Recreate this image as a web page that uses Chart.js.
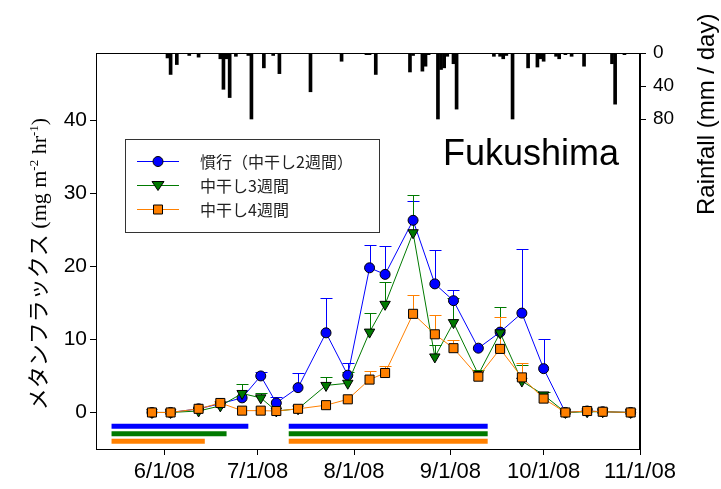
<!DOCTYPE html>
<html>
<head>
<meta charset="utf-8">
<script src="https://cdn.jsdelivr.net/npm/chart.js@4"></script>
<style>
  body { margin: 0; background: #fff; }
  canvas { display: block; }
</style>
</head>
<body>
<canvas id="fluxChart" width="721" height="489"></canvas>
<script>
// sampling dates as day-of-year 2008
const sampleDays = [149, 155, 164, 171, 178, 184, 189, 196, 205, 212, 219, 224, 233, 240, 246, 254, 261, 268, 275, 282, 289, 294, 303];

const fluxConv    = [0, 0, 0.5, 1.2, 2.0, 5.0, 1.3, 3.4, 10.9, 5.1, 19.8, 18.9, 26.3, 17.6, 15.3, 8.8, 11.0, 13.6, 6.0, 0, 0.2, 0.1, 0];
const fluxConvErr = [0, 0, 0, 0, 0, 0.6, 0.8, 2.0, 4.8, 1.7, 3.1, 3.9, 2.7, 4.7, 1.5, 0, 0, 8.8, 4.1, 0, 0, 0, 0];
const flux3w      = [0, 0, 0.2, 0.9, 2.6, 2.0, 0.2, 0.5, 3.7, 4.0, 11.0, 14.8, 24.6, 7.6, 12.3, 5.2, 10.9, 4.3, 2.4, 0, 0.1, 0.1, 0];
const flux3wErr   = [0, 0, 0, 0, 1.3, 0.6, 0, 0, 1.2, 1.5, 2.6, 3.1, 5.2, 1.7, 3.4, 0.6, 3.6, 2.2, 0.4, 0, 0, 0, 0];
const flux4w      = [0, 0, 0.5, 1.3, 0.25, 0.25, 0.2, 0.5, 1.0, 1.8, 4.5, 5.4, 13.5, 10.7, 8.8, 4.9, 8.7, 4.8, 1.9, 0, 0.2, 0.1, 0];
const flux4wErr   = [0, 0, 0, 0.3, 0, 0, 0, 0, 0, 0, 1.2, 0.9, 2.6, 2.7, 1.1, 0, 4.4, 2.0, 0, 0, 0, 0, 0];

// daily rainfall (mm/day)
const rainDays = [154, 155, 157, 161, 164, 171, 172, 173, 174, 176, 180, 181, 185, 188, 190, 200, 210, 218, 219, 221, 232, 233, 236, 237, 238, 241, 242, 243, 244, 246, 247, 259, 261, 262, 263, 265, 270, 273, 274, 275, 279, 280, 282, 284, 288, 297, 298, 301];
const rainMm   = [6, 26, 14, 3, 5, 7, 44, 7, 54, 4, 3, 80, 18, 3, 25, 47, 10, 2, 2, 26, 23, 3, 22, 16, 2, 80, 20, 18, 4, 13, 68, 4, 4, 7, 3, 80, 18, 17, 7, 10, 4, 7, 2, 4, 16, 13, 62, 2];

// flooded periods (start, end day)
const drainConv = [[136, 180], [193, 257]];
const drain3w   = [[136, 173], [193, 257]];
const drain4w   = [[136, 166], [193, 257]];

const seriesNames = ['慣行（中干し2週間）', '中干し3週間', '中干し4週間'];
const dateTicks  = [153, 183, 214, 245, 275, 306];
const dateLabels = ['6/1/08', '7/1/08', '8/1/08', '9/1/08', '10/1/08', '11/1/08'];
const fluxTicks  = [0, 10, 20, 30, 40];
const rainTicks  = [0, 40, 80];

const BLUE = '#0000ff', GREEN = '#007a00', ORANGE = '#ff8000';
const pts = vals => sampleDays.map((d, i) => ({ x: d, y: vals[i] }));

function drainSets(periods, y, color) {
  return periods.map(p => ({
    type: 'line',
    data: [{ x: p[0], y: y }, { x: p[1], y: y }],
    borderColor: color,
    borderWidth: 5,
    borderCapStyle: 'butt',
    pointRadius: 0,
    yAxisID: 'y',
    order: 5
  }));
}

const errorBars = {
  id: 'errorBars',
  beforeDatasetsDraw(chart) {
    const ctx = chart.ctx, ys = chart.scales.y;
    chart.data.datasets.forEach((ds, i) => {
      if (!ds.errors) return;
      const meta = chart.getDatasetMeta(i);
      ctx.save();
      ctx.strokeStyle = ds.borderColor;
      ctx.lineWidth = 1;
      meta.data.forEach((p, j) => {
        const e = ds.errors[j];
        if (!e) return;
        const top = Math.round(ys.getPixelForValue(ds.data[j].y + e)) + 0.5;
        const x = Math.round(p.x) + 0.5;
        ctx.beginPath();
        ctx.moveTo(x, p.y);
        ctx.lineTo(x, top);
        ctx.moveTo(x - 6, top);
        ctx.lineTo(x + 6, top);
        ctx.stroke();
      });
      ctx.restore();
    });
  }
};

const decorations = {
  id: 'decorations',
  afterDraw(chart) {
    const ctx = chart.ctx, a = chart.chartArea;
    ctx.save();
    // frame
    ctx.strokeStyle = '#000';
    ctx.lineWidth = 1;
    ctx.strokeRect(Math.round(a.left) + 0.5, Math.round(a.top) + 0.5, Math.round(a.right - a.left) - 1, Math.round(a.bottom - a.top));

    // legend box
    ctx.strokeStyle = '#333';
    ctx.strokeRect(125.5, 139.5, 254, 93);
    const rows = [161, 185, 209];
    const colors = [BLUE, GREEN, ORANGE];
    rows.forEach((ry, i) => {
      ctx.strokeStyle = colors[i];
      ctx.lineWidth = 1;
      ctx.beginPath();
      ctx.moveTo(137, ry + 0.5);
      ctx.lineTo(179, ry + 0.5);
      ctx.stroke();
      ctx.fillStyle = colors[i];
      ctx.strokeStyle = '#000';
      ctx.beginPath();
      if (i === 0) {
        ctx.arc(158, ry + 0.5, 5, 0, Math.PI * 2);
      } else if (i === 1) {
        ctx.moveTo(152, ry - 3.5);
        ctx.lineTo(164, ry - 3.5);
        ctx.lineTo(158, ry + 5.5);
        ctx.closePath();
      } else {
        ctx.rect(153.5, ry - 4, 9, 9);
      }
      ctx.fill();
      ctx.stroke();
      ctx.fillStyle = '#222';
      ctx.font = '16px "Noto Sans CJK JP"';
      ctx.textBaseline = 'middle';
      ctx.fillText(seriesNames[i], 200, ry + 1);
    });

    // site name
    ctx.fillStyle = '#000';
    ctx.font = '36px "Liberation Sans"';
    ctx.textBaseline = 'alphabetic';
    ctx.fillText('Fukushima', 443, 165);

    // right title
    ctx.save();
    ctx.translate(714, 215);
    ctx.rotate(-Math.PI / 2);
    ctx.font = '24px "Liberation Sans"';
    ctx.textAlign = 'left';
    ctx.textBaseline = 'alphabetic';
    ctx.fillText('Rainfall (mm / day)', 0, 0);
    ctx.restore();

    // left title with mixed fonts
    const parts = [
      { t: 'メタンフラックス', f: '22px "Noto Sans CJK JP"', dy: 0 },
      { t: ' (mg m', f: '22px "Liberation Serif"', dy: 0 },
      { t: '-2', f: '13px "Liberation Serif"', dy: -8 },
      { t: ' hr', f: '22px "Liberation Serif"', dy: 0 },
      { t: '-1', f: '13px "Liberation Serif"', dy: -8 },
      { t: ')', f: '22px "Liberation Serif"', dy: 0 }
    ];
    let total = 0;
    parts.forEach(p => { ctx.font = p.f; p.w = ctx.measureText(p.t).width; total += p.w; });
    ctx.save();
    ctx.translate(46, 264);
    ctx.rotate(-Math.PI / 2);
    let cx = -total / 2;
    parts.forEach(p => {
      ctx.font = p.f;
      ctx.fillText(p.t, cx, p.dy);
      cx += p.w;
    });
    ctx.restore();
    ctx.restore();
  }
};

const axisGrid = { drawOnChartArea: false, drawTicks: true, tickLength: 6, color: '#000', offset: false };

new Chart(document.getElementById('fluxChart'), {
  type: 'line',
  data: {
    datasets: [
      {
        type: 'bar',
        data: rainDays.map((d, i) => ({ x: d, y: rainMm[i] })),
        backgroundColor: '#000',
        barThickness: 3,
        yAxisID: 'yRain',
        order: 6
      },
      ...drainSets(drainConv, -1.9, BLUE),
      ...drainSets(drain3w, -2.9, GREEN),
      ...drainSets(drain4w, -3.95, ORANGE),
      {
        data: pts(fluxConv), errors: fluxConvErr,
        borderColor: BLUE, borderWidth: 1,
        pointStyle: 'circle', pointRadius: 5, pointBackgroundColor: BLUE,
        pointBorderColor: '#000', pointBorderWidth: 1,
        yAxisID: 'y', order: 3
      },
      {
        data: pts(flux3w), errors: flux3wErr,
        borderColor: GREEN, borderWidth: 1,
        pointStyle: 'triangle', rotation: 180, pointRadius: 6, pointBackgroundColor: GREEN,
        pointBorderColor: '#000', pointBorderWidth: 1,
        yAxisID: 'y', order: 2
      },
      {
        data: pts(flux4w), errors: flux4wErr,
        borderColor: ORANGE, borderWidth: 1,
        pointStyle: 'rect', pointRadius: 6.4, pointBackgroundColor: ORANGE,
        pointBorderColor: '#000', pointBorderWidth: 1,
        yAxisID: 'y', order: 1
      }
    ]
  },
  options: {
    responsive: false,
    animation: false,
    layout: { padding: { top: 53, left: 0, right: 0, bottom: 0 } },
    plugins: { legend: { display: false }, tooltip: { enabled: false } },
    scales: {
      x: {
        type: 'linear', min: 131, max: 306, offset: false,
        grid: axisGrid,
        border: { color: '#000' },
        afterBuildTicks: s => { s.ticks = dateTicks.map(v => ({ value: v })); },
        afterFit: s => { s.height = 40; },
        ticks: {
          autoSkip: false, maxRotation: 0, padding: 4, color: '#000',
          font: { family: 'Liberation Sans', size: 22 },
          callback: v => dateLabels[dateTicks.indexOf(v)]
        }
      },
      y: {
        type: 'linear', position: 'left', min: -5, max: 49.2,
        grid: axisGrid,
        border: { color: '#000' },
        afterBuildTicks: s => { s.ticks = fluxTicks.map(v => ({ value: v })); },
        afterFit: s => { s.width = 96; },
        ticks: { padding: 3, color: '#000', font: { family: 'Liberation Sans', size: 21 } }
      },
      yRain: {
        type: 'linear', position: 'right', reverse: true, min: 0, max: 480,
        grid: axisGrid,
        border: { color: '#000' },
        afterBuildTicks: s => { s.ticks = rainTicks.map(v => ({ value: v })); },
        afterFit: s => { s.width = 81; },
        ticks: { padding: 7, color: '#000', font: { family: 'Liberation Sans', size: 19 } }
      }
    }
  },
  plugins: [errorBars, decorations]
});
</script>
</body>
</html>
